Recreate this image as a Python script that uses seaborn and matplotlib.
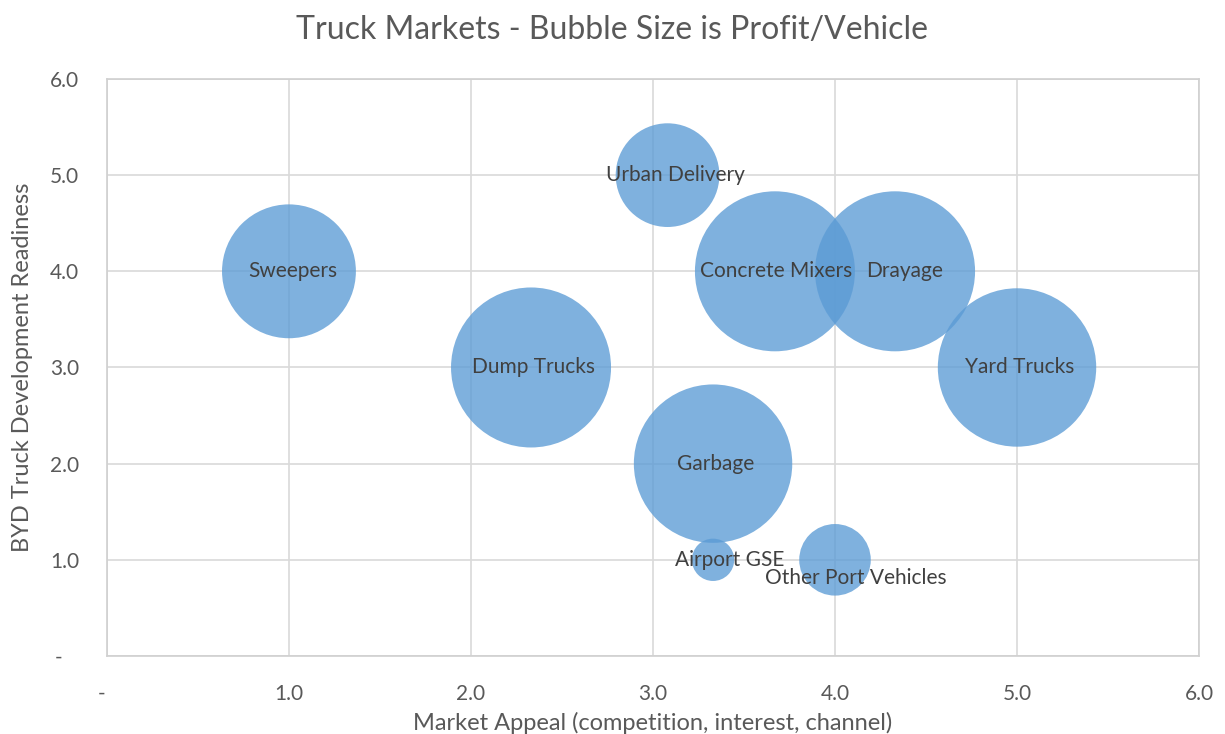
import matplotlib
matplotlib.use("Agg")
import matplotlib.pyplot as plt
import seaborn as sns
import pandas as pd

# ---- data ----
markets = ["Sweepers", "Urban Delivery", "Concrete Mixers", "Drayage", "Dump Trucks",
           "Yard Trucks", "Garbage", "Airport GSE", "Other Port Vehicles"]
market_appeal = [1.0, 3.08, 3.67, 4.33, 2.33, 5.0, 3.33, 3.33, 4.0]
readiness = [4.0, 5.0, 4.0, 4.0, 3.0, 3.0, 2.0, 1.0, 1.0]
profit_per_vehicle = [7.0, 4.2, 10.0, 10.0, 10.0, 9.8, 9.8, 0.7, 2.0]
tick_values = [0, 1, 2, 3, 4, 5, 6]
x_tick_labels = ["-  ", "1.0", "2.0", "3.0", "4.0", "5.0", "6.0"]
y_tick_labels = ["-   ", "1.0", "2.0", "3.0", "4.0", "5.0", "6.0"]
# label offsets in points (label placement as in reference)
label_dx = [3, 6, 1, 7, 2, 2, 2, 12, 15]
label_dy = [0, 0, 0, 0, 0, 0, 0, 0, -13]

df = pd.DataFrame({"market": markets, "appeal": market_appeal,
                   "readiness": readiness, "profit": profit_per_vehicle})

sns.set_theme(style="whitegrid")
plt.rcParams["font.family"] = ["Lato", "DejaVu Sans"]

fig = plt.figure(figsize=(12.25, 7.34), dpi=100)
ax = fig.add_axes([0.0873, 0.1063, 0.8915, 0.7861])

max_area = (160 * 72 / 100) ** 2  # diameter of largest bubble in points, squared
sns.scatterplot(data=df, x="appeal", y="readiness", size="profit",
                sizes=(0, max_area), size_norm=(0, max(profit_per_vehicle)),
                color="#5B9BD5", alpha=0.78, linewidth=0, legend=False, ax=ax,
                zorder=3)

for name, x, y, dx, dy in zip(markets, market_appeal, readiness, label_dx, label_dy):
    ax.annotate(name, (x, y), xytext=(dx, dy), textcoords="offset points",
                ha="center", va="center", fontsize=15, color="#404040", zorder=5)

ax.set_xlim(0, 6)
ax.set_ylim(0, 6)
ax.set_xticks(tick_values)
ax.set_xticklabels(x_tick_labels)
ax.set_yticks(tick_values)
ax.set_yticklabels(y_tick_labels)
ax.tick_params(axis="both", labelsize=15, colors="#595959", length=0)
ax.tick_params(axis="x", pad=20)
ax.tick_params(axis="y", pad=20)
ax.grid(True, color="#D9D9D9", linewidth=1.2)
for side in ["left", "bottom", "top", "right"]:
    ax.spines[side].set_visible(True)
    ax.spines[side].set_color("#D0D0D0")
    ax.spines[side].set_linewidth(1.2)

ax.set_xlabel("Market Appeal (competition, interest, channel)", fontsize=17,
              color="#595959", labelpad=6)
ax.set_ylabel("BYD Truck Development Readiness", fontsize=17, color="#595959",
              labelpad=12)
fig.suptitle("Truck Markets - Bubble Size is Profit/Vehicle", fontsize=23,
             color="#595959", y=0.98)

fig.savefig("out.png", dpi=100)
